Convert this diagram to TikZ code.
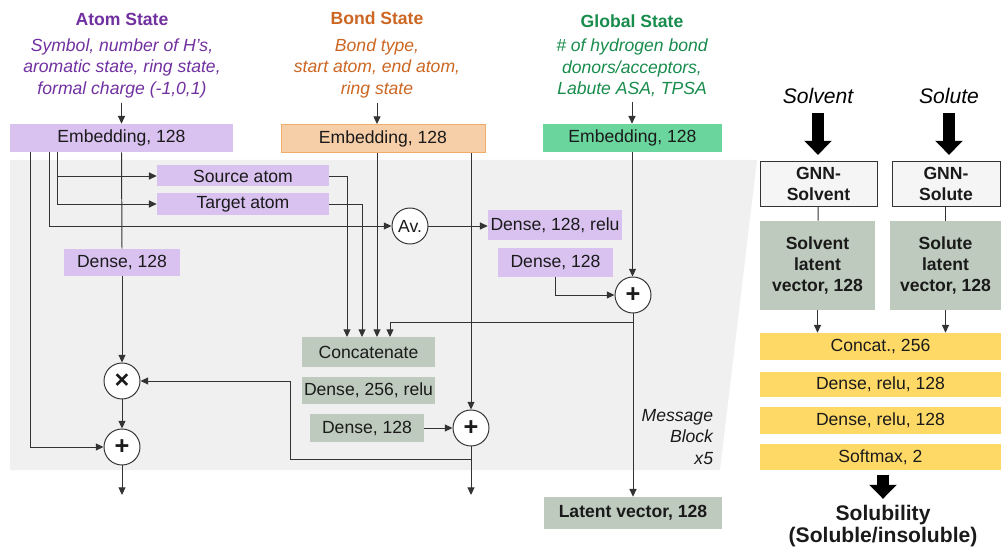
\documentclass[tikz,border=0pt]{standalone}
\usepackage{fontspec}
\setmainfont{Liberation Sans}
\usetikzlibrary{arrows.meta,positioning,calc}

\definecolor{atomcol}{RGB}{112,48,160}
\definecolor{bondcol}{RGB}{204,102,34}
\definecolor{globcol}{RGB}{24,140,76}
\definecolor{atomfill}{RGB}{217,194,240}
\definecolor{bondfill}{RGB}{246,206,168}
\definecolor{bondline}{RGB}{240,172,105}
\definecolor{globfill}{RGB}{106,214,158}
\definecolor{sagefill}{RGB}{189,202,189}
\definecolor{yellowfill}{RGB}{255,217,102}
\definecolor{blockgrey}{RGB}{240,240,240}
\definecolor{linegrey}{RGB}{51,51,51}
\definecolor{gnnfill}{RGB}{245,245,245}
\definecolor{inktext}{RGB}{26,26,26}

\tikzset{
  lbl/.style={font=\fontsize{12.5}{15.3}\selectfont, text=inktext},
  title/.style={font=\fontsize{12.5}{15}\selectfont\bfseries},
  desc/.style={font=\fontsize{12.5}{15.3}\selectfont\itshape, align=center},
  box/.style={lbl, inner sep=0pt, minimum height=28*\pxu},
  atombox/.style={box, fill=atomfill},
  bondbox/.style={box, fill=bondfill, draw=bondline, line width=0.6pt},
  globbox/.style={box, fill=globfill},
  sagebox/.style={box, fill=sagefill},
  yellowbox/.style={box, fill=yellowfill, minimum width=241*\pxu},
  gnnbox/.style={box, fill=gnnfill, draw=linegrey, line width=0.7pt, align=center, font=\fontsize{12.5}{15}\selectfont\bfseries},
  op/.style={circle, draw=linegrey, line width=0.7pt, fill=white, minimum size=36*\pxu, inner sep=0pt, text=inktext, font=\fontsize{18}{18}\selectfont\bfseries},
  conn/.style={draw=linegrey, line width=0.7pt},
  arr/.style={conn, -{Triangle[length=5.5pt,width=5pt]}},
  bigarr/.style={draw=black, line width=9pt, -{Triangle[length=10pt,width=19pt]}},
}

\begin{document}
\begin{tikzpicture}[x=0.025cm, y=-0.025cm]

% Define dimensions
\def\pxu{0.025cm}

\useasboundingbox (0,0) rectangle (1001,550);

% Message block background
\fill[blockgrey] (10,160) -- (757,160) -- (720,470) -- (10,470) -- cycle;

% Inputs: titles, features, embeddings
\node[title, text=atomcol] (atomtitle) at (122,19) {Atom State};
\node[desc, text=atomcol] (atomdesc) at (122,68) {Symbol, number of H's,\\aromatic state, ring state,\\formal charge (-1,0,1)};
\node[title, text=bondcol] (bondtitle) at (377,18) {Bond State};
\node[desc, text=bondcol] (bonddesc) at (377,68) {Bond type,\\start atom, end atom,\\ring state};
\node[title, text=globcol] (globtitle) at (632,21) {Global State};
\node[desc, text=globcol] (globdesc) at (632,68) {\# of hydrogen bond\\donors/acceptors,\\Labute ASA, TPSA};

\node[atombox, minimum width=223*\pxu] (atomemb) at (121.5,138) {Embedding, 128};
\node[bondbox, minimum width=204*\pxu] (bondemb) at (383,138.5) {Embedding, 128};
\node[globbox, minimum width=179*\pxu] (globemb) at (632.5,138) {Embedding, 128};

\draw[arr] (atomdesc.south -| atomemb.north) -- (atomemb.north);
\draw[arr] (bonddesc.south) -- (bonddesc.south |- bondemb.north);
\draw[arr] (globdesc.south) -- (globdesc.south |- globemb.north);

% Message block nodes
\node[atombox, minimum width=172*\pxu, minimum height=21*\pxu] (srcatom) at (243,176) {Source atom};
\node[atombox, minimum width=172*\pxu, minimum height=22*\pxu] (tgtatom) at (243,204) {Target atom};
\node[op, lbl, font=\fontsize{12.5}{15}\selectfont] (avg) at (410,226) {Av.};
\node[atombox, minimum width=134*\pxu, minimum height=30*\pxu] (densrelu) at (555,225) {Dense, 128, relu};
\node[atombox, minimum width=115*\pxu, minimum height=29*\pxu] (densglob) at (555.5,262.5) {Dense, 128};
\node[op] (globplus) at (633,295) {+};
\node[atombox, minimum width=116*\pxu, minimum height=27*\pxu] (densatom) at (122,262.5) {Dense, 128};
\node[op] (times) at (122,381) {×};
\node[op] (atomplus) at (122,447) {+};
\node[sagebox, minimum width=133*\pxu, minimum height=30*\pxu] (concat) at (368.5,352) {Concatenate};
\node[sagebox, minimum width=133*\pxu, minimum height=27*\pxu] (dense256) at (368.5,390.5) {Dense, 256, relu};
\node[sagebox, minimum width=114*\pxu, minimum height=28*\pxu] (densbond) at (367,428) {Dense, 128};
\node[op] (bondplus) at (471,428) {+};
\node[sagebox, minimum width=178*\pxu, minimum height=32*\pxu, font=\fontsize{12.5}{15}\selectfont\bfseries] (latent) at (633,513) {Latent vector, 128};
\node[desc, align=right, anchor=east, text=inktext] (msgblock) at (718,437) {Message\\Block\\x5};

% Branch points
\coordinate (tapres) at (30,152);
\coordinate (tapav) at (49,152);
\coordinate (tapsrc) at (57,152);
\coordinate (catA) at (347,337);
\coordinate (catB) at (362,337);
\coordinate (catC) at (377,337);
\coordinate (catD) at (390,337);
\coordinate (globsplit) at (633,322);
\coordinate (bondsplit) at (471,459);
\coordinate (loopcorner) at (290,459);
\coordinate (atomout) at (122,495);
\coordinate (bondout) at (471,495);

% Atom path
\draw[arr] (tapres) |- (atomplus.west);
\draw[arr] (tapav) |- (avg.west);
\draw[arr] (tapsrc) |- (srcatom.west);
\draw[arr] (tapsrc) |- (tgtatom.west);
\draw[conn] (atomemb.south) -- (densatom.north);
\draw[arr] (densatom.south) -- (times.north);
\draw[arr] (times.south) -- (atomplus.north);
\draw[arr] (atomplus.south) -- (atomout);

% Bond path
\draw[arr] (srcatom.east) -| (catA);
\draw[arr] (tgtatom.east) -| (catB);
\draw[arr] (bondemb.south -| catC) -- (catC);
\draw[arr] (bondemb.south -| bondplus) -- (bondplus.north);
\draw[arr] (densbond.east) -- (bondplus.west);
\draw[arr] (bondplus.south) -- (bondout);
\draw[arr] (bondsplit) -- (loopcorner) |- (times.east);

% Global path
\draw[arr] (avg.east) -- (avg.east -| densrelu.west);
\draw[arr] (globemb.south) -- (globemb.south |- globplus.north);
\draw[arr] (densglob.south) |- (globplus.west);
\draw[arr] (globplus.south) -- (latent.north);
\draw[arr] (globsplit) -| (catD);

% Solvent / solute model
\node[desc, font=\fontsize{15}{16}\selectfont\itshape] (solventlbl) at (818,96) {Solvent};
\node[desc, font=\fontsize{15}{16}\selectfont\itshape] (solutelbl) at (949,96) {Solute};
\node[gnnbox, minimum width=117*\pxu, minimum height=45*\pxu] (gnnsolv) at (818.5,183.5) {GNN-\\Solvent};
\node[gnnbox, minimum width=108*\pxu, minimum height=45*\pxu] (gnnsolu) at (946,183.5) {GNN-\\Solute};
\node[sagebox, align=center, minimum width=115*\pxu, minimum height=89*\pxu, font=\fontsize{12.5}{15}\selectfont\bfseries] (solvlat) at (817.5,265.5) {Solvent\\latent\\vector, 128};
\node[sagebox, align=center, minimum width=111*\pxu, minimum height=89*\pxu, font=\fontsize{12.5}{15}\selectfont\bfseries] (solulat) at (945.5,265.5) {Solute\\latent\\vector, 128};
\node[yellowbox, minimum height=27*\pxu] (catfinal) at (880.5,346.5) {Concat., 256};
\node[yellowbox, minimum height=25*\pxu] (densea) at (880.5,384.5) {Dense, relu, 128};
\node[yellowbox, minimum height=27*\pxu] (denseb) at (880.5,420.5) {Dense, relu, 128};
\node[yellowbox, minimum height=26*\pxu] (softmax) at (880.5,457) {Softmax, 2};
\node[desc, text=inktext, font=\fontsize{15}{15.6}\selectfont\bfseries] (solub) at (883,526) {Solubility\\(Soluble/insoluble)};

\draw[bigarr, shorten <=3pt, shorten >=4pt] (solventlbl.south) -- (solventlbl.south |- gnnsolv.north);
\draw[bigarr, shorten <=3pt, shorten >=4pt] (solutelbl.south) -- (solutelbl.south |- gnnsolu.north);
\draw[conn] (gnnsolv) -- (solvlat);
\draw[conn] (gnnsolu.south -| solulat.north) -- (solulat.north);
\draw[arr] (solvlat.south) -- (solvlat.south |- catfinal.north);
\draw[arr] (solulat.south) -- (solulat.south |- catfinal.north);
\draw[bigarr, shorten <=3pt, shorten >=1pt] (softmax.south -| solub.north) -- (solub.north);

\end{tikzpicture}
\end{document}
